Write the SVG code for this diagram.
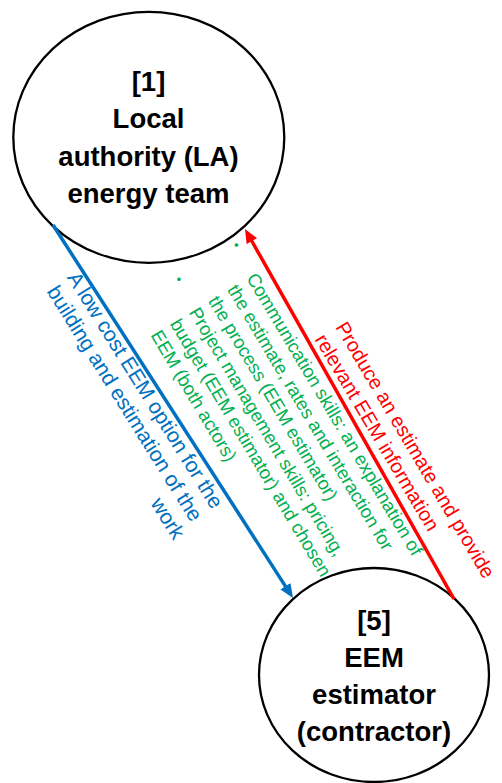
<svg xmlns="http://www.w3.org/2000/svg" width="502" height="783" viewBox="0 0 502 783">
  <style>
    .node { fill: #ffffff; stroke: #000000; stroke-width: 2.3; }
    .nlabel { font-family: "Liberation Sans", Arial, sans-serif; font-weight: bold; font-size: 27.5px; fill: #000000; text-anchor: middle; }
    .elabel { font-family: "Liberation Sans", Arial, sans-serif; font-size: 21px; }
    .glabel { font-family: "Liberation Sans", Arial, sans-serif; font-size: 18.5px; fill: #00B050; }
    .bullet { font-size: 13px; }
  </style>
  <defs>
    <marker id="ahBlue" markerUnits="userSpaceOnUse" markerWidth="14" markerHeight="12" viewBox="0 0 14 12" refX="4" refY="6" orient="auto">
      <path d="M0,0 L14,6 L0,12 z" fill="#0070C0"/>
    </marker>
    <marker id="ahRed" markerUnits="userSpaceOnUse" markerWidth="14" markerHeight="12" viewBox="0 0 14 12" refX="4" refY="6" orient="auto">
      <path d="M0,0 L14,6 L0,12 z" fill="#FF0000"/>
    </marker>
  </defs>

  <g id="node-1">
    <ellipse class="node" cx="148.8" cy="137.3" rx="135.5" ry="125.5"/>
    <text class="nlabel" x="148.5" y="91">[1]</text>
    <text class="nlabel" x="148.5" y="128">Local</text>
    <text class="nlabel" x="148.5" y="166">authority (LA)</text>
    <text class="nlabel" x="148.5" y="203">energy team</text>
  </g>

  <g id="node-5">
    <ellipse class="node" cx="374" cy="675" rx="115" ry="107"/>
    <text class="nlabel" x="374" y="630">[5]</text>
    <text class="nlabel" x="374" y="667">EEM</text>
    <text class="nlabel" x="374" y="704">estimator</text>
    <text class="nlabel" x="374" y="741">(contractor)</text>
  </g>

  <g id="connectors">
    <line x1="53" y1="225" x2="287.6" y2="589.6" stroke="#0070C0" stroke-width="3.5" marker-end="url(#ahBlue)"/>
    <line x1="454" y1="599" x2="249.9" y2="237.7" stroke="#FF0000" stroke-width="3.5" marker-end="url(#ahRed)"/>
  </g>

  <g id="label-blue" transform="translate(215,515) rotate(58)">
    <text class="elabel" fill="#0070C0" text-anchor="end">
      <tspan x="0" y="0">A low cost EEM option for the</tspan>
      <tspan x="0" y="24.5">building and estimation of the</tspan>
      <tspan x="0" y="49">work</tspan>
    </text>
  </g>

  <g id="label-red" transform="translate(335,327) rotate(59.5)">
    <text class="elabel" fill="#FF0000" style="font-size:20px">
      <tspan x="0" y="0">Produce an estimate and provide</tspan>
      <tspan x="0" y="24">relevant EEM information</tspan>
    </text>
  </g>

  <g id="label-green" transform="translate(246,278) rotate(59.2)">
    <text class="glabel">
      <tspan class="bullet" x="-35.5" y="-4.2">•</tspan>
      <tspan x="0" y="0">Communication skills: an explanation of</tspan>
      <tspan x="0" y="22.3">the estimate, rates and interaction for</tspan>
      <tspan x="0" y="44.6">the process (EEM estimator)</tspan>
      <tspan class="bullet" x="-35.5" y="62.7">•</tspan>
      <tspan x="0" y="66.9">Project management skills: pricing,</tspan>
      <tspan x="0" y="89.2">budget (EEM estimator) and chosen</tspan>
      <tspan x="0" y="111.5">EEM (both actors)</tspan>
    </text>
  </g>
</svg>
